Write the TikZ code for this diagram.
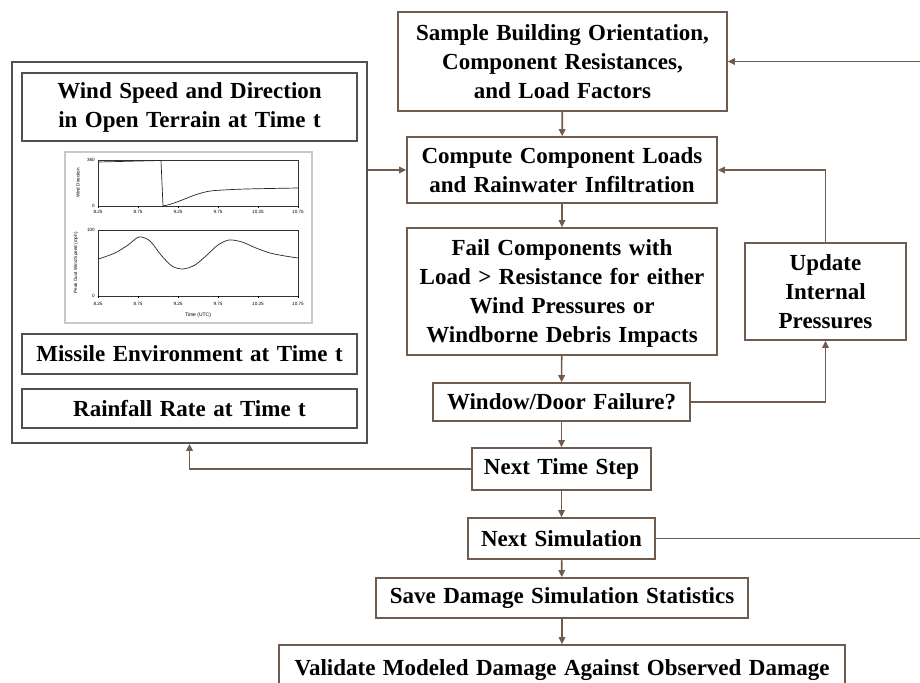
\documentclass[tikz,border=0pt]{standalone}
\usepackage{fontspec}
\setmainfont{Liberation Serif}
\newfontfamily\chartfont{Liberation Sans}
\usetikzlibrary{arrows.meta}
\definecolor{flowbrown}{RGB}{112,92,78}
\definecolor{envgray}{RGB}{80,80,80}
\definecolor{framegray}{RGB}{200,200,200}
\newcommand\boxtextfont{\fontsize{23}{29}\selectfont\bfseries\spaceskip=7.5pt plus 2pt\relax}

\begin{document}
\begin{tikzpicture}[x=1pt,y=-1pt,
  boxfont/.style={font=\boxtextfont},
  flowbox/.style={draw=flowbrown, line width=1.6pt, fill=white, align=center,
    inner sep=0pt, boxfont},
  envbox/.style={draw=envgray, line width=1.8pt, fill=white, align=center,
    inner sep=0pt, boxfont},
  link/.style={draw=flowbrown, line width=1.6pt,
    -{Triangle[length=7pt,width=6.5pt]}},
  ticklab/.style={font=\chartfont\fontsize{4.6}{5}\selectfont, inner sep=0pt},
  curve/.style={black!85, line width=0.7pt},
]
\clip (0,0) rectangle (920,682);
\fill[white] (0,0) rectangle (920,682);

% ---- environment inputs (left group) ----
\node[envbox, minimum width=355pt, minimum height=381pt] (env) at (189.5,252.5) {};
\node[envbox, minimum width=335pt, minimum height=68pt] (wind) at (189.5,107)
  {Wind Speed and Direction\\in Open Terrain at Time t};
\node[envbox, minimum width=335pt, minimum height=40pt] (missile) at (189.5,354)
  {Missile Environment at Time t};
\node[envbox, minimum width=335pt, minimum height=39pt] (rain) at (189.5,408.5)
  {Rainfall Rate at Time t};

% wind time-history chart
\draw[framegray, line width=2.5pt, fill=white] (65,152) rectangle (312,323);
\draw[black!80, line width=0.5pt] (98,160) rectangle (298,206);
\draw[black!80, line width=0.5pt] (98,230) rectangle (298,296);
\foreach \x/\l in {98/8.25,138/8.75,178/9.25,218/9.75,258/10.25,298/10.75}{
  \draw[black, line width=0.4pt] (\x,206) -- (\x,207.5);
  \draw[black, line width=0.4pt] (\x,296) -- (\x,297.5);
  \node[ticklab] at (\x,212) {\l};
  \node[ticklab] at (\x,304) {\l};
}
\node[ticklab, anchor=east] at (95,160) {360};
\node[ticklab, anchor=east] at (95,206) {0};
\node[ticklab, anchor=east] at (95,230) {100};
\node[ticklab, anchor=east] at (95,296) {0};
\node[ticklab, rotate=90] at (78,183) {Wind Direction};
\node[ticklab, rotate=90] at (76,263) {Peak Gust Wind Speed (mph)};
\node[ticklab, font=\chartfont\fontsize{5}{6}\selectfont] at (198,315) {Time (UTC)};
\draw[curve] (98,162) -- (161,160.5) -- (163,206)
  .. controls (180,203) and (195,192) .. (215,190.5)
  .. controls (240,189) .. (298,188);
\draw[curve] plot[smooth] coordinates {(98.5,259) (115,253) (128,245) (139,237)
  (150,241) (161,255) (172,266) (183,269) (195,265) (207,255) (218,245)
  (229,240) (242,242) (256,248) (270,253) (285,256) (298,258)};

% ---- simulation flow (right column) ----
\node[flowbox, minimum width=329pt, minimum height=99pt] (sample) at (562.5,61.5)
  {Sample Building Orientation,\\Component Resistances,\\and Load Factors};
\node[flowbox, minimum width=310pt, minimum height=66pt] (compute) at (562,170)
  {Compute Component Loads\\and Rainwater Infiltration};
\node[flowbox, minimum width=310pt, minimum height=127pt, text depth=0pt] (fail) at (562,291.5)
  {Fail Components with\\Load > Resistance for either\\Wind Pressures or\\Windborne Debris Impacts};
\node[flowbox, minimum width=161pt, minimum height=97pt] (update) at (825.5,291.5)
  {Update\\Internal\\Pressures};
\node[flowbox, minimum width=257pt, minimum height=38pt] (window) at (561.5,402)
  {Window/Door Failure?};
\node[flowbox, minimum width=179pt, minimum height=42pt] (nextstep) at (561.5,469)
  {Next Time Step};
\node[flowbox, minimum width=187pt, minimum height=41pt] (nextsim) at (561.5,538.5)
  {Next Simulation};
\node[flowbox, minimum width=372pt, minimum height=40pt] (save) at (562,598)
  {Save Damage Simulation Statistics};
\node[flowbox, minimum width=566pt, minimum height=50pt] (validate) at (562,670)
  {Validate Modeled Damage Against Observed Damage};

% ---- connectors ----
\draw[link] (sample) -- (compute);
\draw[link] (env.east |- compute.west) -- (compute.west);
\draw[link] (compute) -- (fail);
\draw[link] (fail) -- (window);
\draw[link] (window.east) -- (update.south |- window.east) -- (update.south);
\draw[link] (update.north) -- (update.north |- compute.east) -- (compute.east);
\draw[link] (window) -- (nextstep);
\draw[link] (nextstep.west) -- (nextstep.west -| env.south) -- (env.south);
\draw[link] (nextstep) -- (nextsim);
\draw[link] (nextsim.east) -- (925,538.5) -- (925,61.5) -- (sample.east);
\draw[link] (nextsim) -- (save);
\draw[link] (save) -- (validate);
\end{tikzpicture}
\end{document}
